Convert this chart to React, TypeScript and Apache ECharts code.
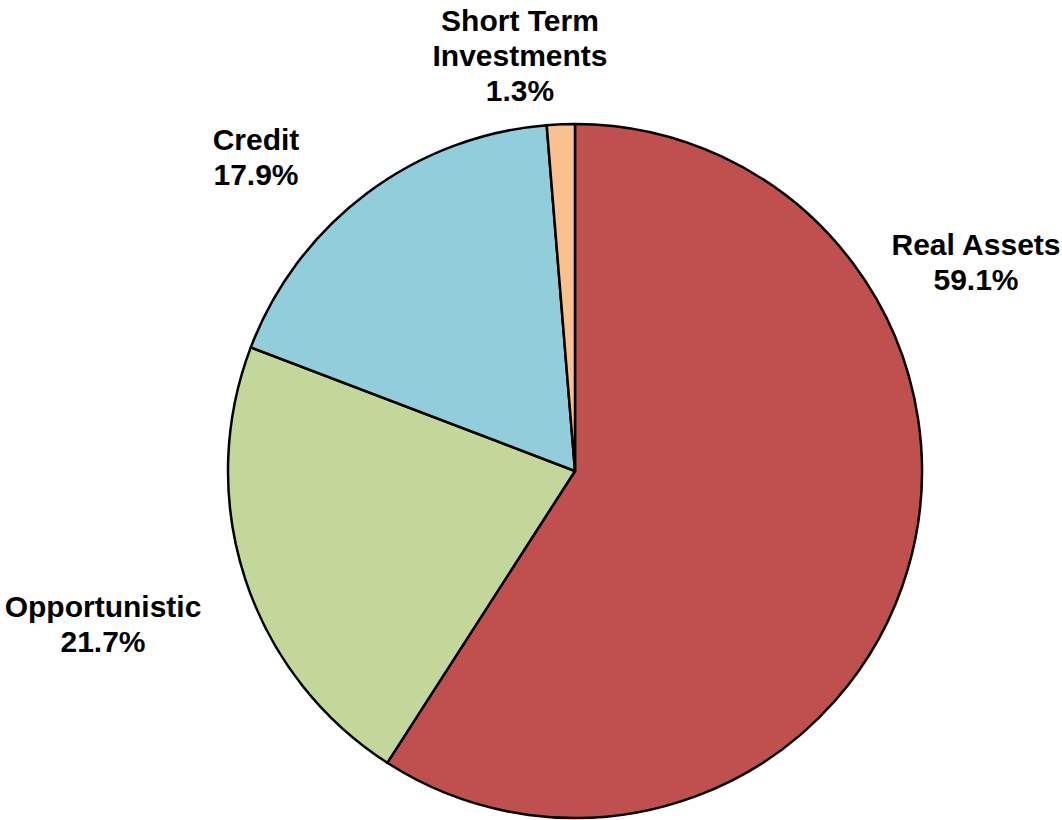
import React, { useEffect, useRef } from "react";
import * as echarts from "echarts";

const categories = ["Real Assets", "Opportunistic", "Credit", "Short Term\nInvestments"];
const values = [59.1, 21.7, 17.9, 1.3];
const colors = ["#C0504D", "#C4D79B", "#92CDDC", "#FAC090"];
// label centre offsets relative to pie centre (layout only)
const labelOffsets = [
  [401, -209],
  [-472, 153],
  [-319, -314],
  [-55, -416],
];

export default function App() {
  const ref = useRef<HTMLDivElement>(null);
  useEffect(() => {
    document.body.style.margin = "0";
    const chart = echarts.init(ref.current!, null, { renderer: "svg" });
    const cx = 575;
    const cy = 471;
    chart.setOption({
      animation: false,
      backgroundColor: "#ffffff",
      series: [
        {
          type: "pie",
          center: [cx, cy],
          radius: [0, 347],
          startAngle: 90,
          clockwise: true,
          avoidLabelOverlap: false,
          data: categories.map((name, i) => ({
            name,
            value: values[i],
            itemStyle: { color: colors[i] },
          })),
          itemStyle: { borderColor: "#000000", borderWidth: 2.5 },
          label: {
            show: true,
            position: "outside",
            formatter: (p: any) => `${p.name}\n${p.value.toFixed(1)}%`,
            fontFamily: "Liberation Sans, Arial, sans-serif",
            fontWeight: "bold",
            fontSize: 30,
            lineHeight: 35,
            color: "#000000",
            align: "center",
          },
          labelLine: { show: false },
          labelLayout: (params: any) => {
            const o = labelOffsets[params.dataIndex];
            return {
              x: cx + o[0],
              y: cy + o[1],
              align: "center",
              verticalAlign: "middle",
            };
          },
          emphasis: { disabled: true },
        },
      ],
    });
    return () => chart.dispose();
  }, []);
  return <div ref={ref} style={{ width: 1062, height: 820 }} />;
}
